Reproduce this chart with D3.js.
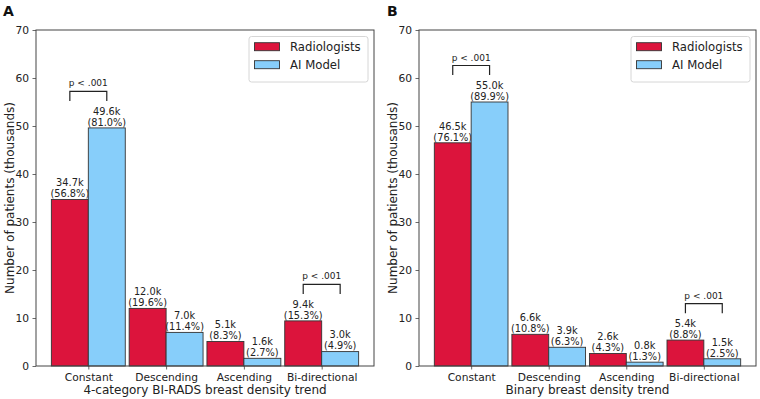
<!DOCTYPE html>
<html>
<head>
<meta charset="utf-8">
<script src="https://cdn.jsdelivr.net/npm/d3@7"></script>
<style>
  html, body { margin: 0; padding: 0; background: #fff; }
  svg { display: block; font-family: "DejaVu Sans", sans-serif; }
</style>
</head>
<body>
<svg id="chart" width="760" height="399"></svg>
<script>
// ---- Data ----
const categories = ["Constant", "Descending", "Ascending", "Bi-directional"];
const seriesNames = ["Radiologists", "AI Model"];
const yTicks = [0, 10, 20, 30, 40, 50, 60, 70];

// Panel A: 4-category BI-RADS
const aRadiologists = [34.7, 12.0, 5.1, 9.4];
const aRadiologistsPct = [56.8, 19.6, 8.3, 15.3];
const aAIModel = [49.6, 7.0, 1.6, 3.0];
const aAIModelPct = [81.0, 11.4, 2.7, 4.9];
const aSignificant = ["Constant", "Bi-directional"];

// Panel B: binary
const bRadiologists = [46.5, 6.6, 2.6, 5.4];
const bRadiologistsPct = [76.1, 10.8, 4.3, 8.8];
const bAIModel = [55.0, 3.9, 0.8, 1.5];
const bAIModelPct = [89.9, 6.3, 1.3, 2.5];
const bSignificant = ["Constant", "Bi-directional"];

const pLabel = "p < .001";

// ---- Styles ----
const colors = ["#DC143C", "#87CEFA"];
const textColor = "#222";
const spineColor = "#444";

const svg = d3.select("#chart");

const panels = [
  { letter: "A", left: 36, right: 374, xlabel: "4-category BI-RADS breast density trend",
    series: [aRadiologists, aAIModel], pct: [aRadiologistsPct, aAIModelPct], sig: aSignificant, letterX: 3 },
  { letter: "B", left: 419, right: 756, xlabel: "Binary breast density trend",
    series: [bRadiologists, bAIModel], pct: [bRadiologistsPct, bAIModelPct], sig: bSignificant, letterX: 387 }
];

const plotTop = 30, plotBottom = 366;
const barW = 0.475;

panels.forEach(p => {
  const g = svg.append("g");
  const x = d3.scaleLinear().domain([-0.6725, 3.6725]).range([p.left, p.right]);
  const y = d3.scaleLinear().domain([0, 70]).range([plotBottom, plotTop]);

  // bars
  p.series.forEach((vals, s) => {
    g.selectAll(null).data(vals).enter().append("rect")
      .attr("x", (d, i) => x(s === 0 ? i - barW : i))
      .attr("y", d => y(d))
      .attr("width", x(barW) - x(0))
      .attr("height", d => y(0) - y(d))
      .attr("fill", colors[s])
      .attr("stroke", "#333")
      .attr("stroke-width", 0.9);

    // labels
    const lab = g.selectAll(null).data(vals).enter().append("text")
      .attr("text-anchor", "middle")
      .attr("font-size", "9.8px")
      .attr("fill", textColor);
    lab.append("tspan")
      .attr("x", (d, i) => x(s === 0 ? i - barW / 2 : i + barW / 2))
      .attr("y", d => y(d) - 13.3)
      .text(d => d.toFixed(1) + "k");
    lab.append("tspan")
      .attr("x", (d, i) => x(s === 0 ? i - barW / 2 : i + barW / 2))
      .attr("y", d => y(d) - 2.3)
      .text((d, i) => "(" + p.pct[s][i].toFixed(1) + "%)");
  });

  // significance brackets
  p.sig.forEach(cat => {
    const i = categories.indexOf(cat);
    const m = Math.max(p.series[0][i], p.series[1][i]);
    const base = m + 5.6, topV = base + 2;
    const x1 = x(i - barW / 2), x2 = x(i + barW / 2);
    g.append("path")
      .attr("d", `M${x1},${y(base)}V${y(topV)}H${x2}V${y(base)}`)
      .attr("fill", "none")
      .attr("stroke", "#222")
      .attr("stroke-width", 1.2);
    g.append("text")
      .attr("x", (x1 + x2) / 2)
      .attr("y", y(topV) - 5)
      .attr("text-anchor", "middle")
      .attr("font-size", "9px")
      .attr("fill", textColor)
      .text(pLabel);
  });

  // axes
  const yAxis = d3.axisLeft(y).tickValues(yTicks).tickSize(3.5).tickPadding(3.5).tickFormat(d3.format("d"));
  const ya = g.append("g").attr("transform", `translate(${p.left},0)`).call(yAxis);
  const xAxis = d3.axisBottom(x).tickValues([0, 1, 2, 3]).tickSize(3.5).tickPadding(3.5).tickFormat(i => categories[i]);
  const xa = g.append("g").attr("transform", `translate(0,${plotBottom})`).call(xAxis);
  [ya, xa].forEach(a => {
    a.select(".domain").remove();
    a.selectAll("line").attr("stroke", spineColor).attr("stroke-width", 0.8);
    a.selectAll("text").attr("font-size", "10.7px").attr("fill", textColor).attr("font-family", "DejaVu Sans");
  });

  // spines (box)
  g.append("rect")
    .attr("x", p.left).attr("y", plotTop)
    .attr("width", p.right - p.left).attr("height", plotBottom - plotTop)
    .attr("fill", "none").attr("stroke", spineColor).attr("stroke-width", 1);

  // axis labels
  g.append("text")
    .attr("x", (p.left + p.right) / 2).attr("y", 394)
    .attr("text-anchor", "middle").attr("font-size", "12px").attr("fill", textColor)
    .text(p.xlabel);
  const ylx = p.left - 22;
  g.append("text")
    .attr("transform", `translate(${ylx},${(plotTop + plotBottom) / 2}) rotate(-90)`)
    .attr("text-anchor", "middle").attr("font-size", "12px").attr("fill", textColor)
    .text("Number of patients (thousands)");

  // panel letter
  g.append("text")
    .attr("x", p.letterX).attr("y", 16)
    .attr("font-size", "14px").attr("font-weight", "bold").attr("fill", "#111")
    .text(p.letter);

  // legend
  const boxR = p.right - 6, boxW = 119, boxL = boxR - boxW;
  const lg = g.append("g");
  lg.append("rect")
    .attr("x", boxL).attr("y", 36.5).attr("width", boxW).attr("height", 45.5)
    .attr("rx", 2.5).attr("fill", "#fff").attr("fill-opacity", 0.85)
    .attr("stroke", "#d6d6d6").attr("stroke-width", 1);
  seriesNames.forEach((name, s) => {
    const yy = 42.7 + s * 18;
    lg.append("rect")
      .attr("x", boxL + 5.5).attr("y", yy).attr("width", 25).attr("height", 8)
      .attr("fill", colors[s]).attr("stroke", "#333").attr("stroke-width", 0.9);
    lg.append("text")
      .attr("x", boxL + 41).attr("y", yy + 8.2)
      .attr("font-size", "11.7px").attr("fill", textColor)
      .text(name);
  });
});
</script>
</body>
</html>
